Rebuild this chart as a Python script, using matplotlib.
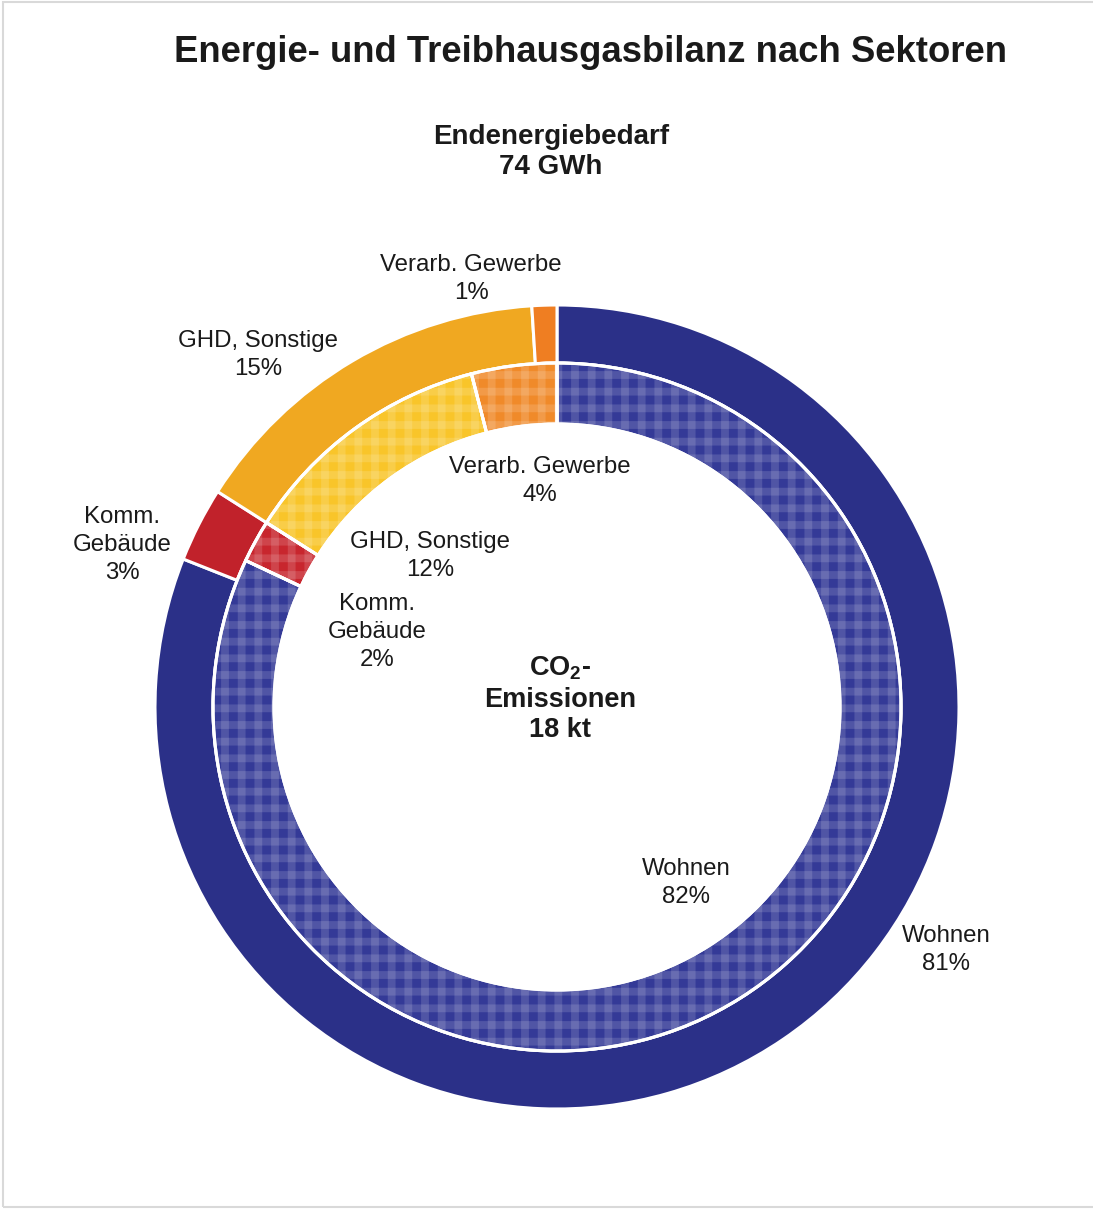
import matplotlib
matplotlib.use("Agg")
import matplotlib.pyplot as plt
from matplotlib.patches import Wedge, Rectangle

plt.rcParams["font.family"] = ["Liberation Sans", "DejaVu Sans"]
plt.rcParams["mathtext.fontset"] = "custom"
plt.rcParams["mathtext.rm"] = "Liberation Sans"
plt.rcParams["mathtext.bf"] = "Liberation Sans:bold"
plt.rcParams["hatch.linewidth"] = 5.6

# Sectors, clockwise from 12 o'clock
sectors = ["Wohnen", "Komm.\nGebäude", "GHD, Sonstige", "Verarb. Gewerbe"]
energy_share = [81, 3, 15, 1]      # Endenergiebedarf, %
co2_share = [82, 2, 12, 4]         # CO2-Emissionen, %
energy_total = "74 GWh"
co2_total = "18 kt"

outer_colors = ["#2B3088", "#C1222B", "#F0A821", "#EF7E22"]
inner_colors = ["#343A97", "#C8262E", "#F9C52A", "#F08A2A"]

W, H = 1093, 1209
fig = plt.figure(figsize=(W / 100, H / 100), dpi=100)
ax = fig.add_axes([0, 0, 1, 1])

# frame around the chart area
fig.patches.append(Rectangle((3 / W, 2 / H), (W + 10) / W, (H - 4) / H,
                             transform=fig.transFigure, fill=False,
                             edgecolor="#D9D9D9", lw=1.5))

cx, cy = 557, H - 707
R_out, w_out = 402, 58
R_in, w_in = 344, 61

outer, _ = ax.pie(energy_share, colors=outer_colors, startangle=90,
                  counterclock=False, radius=R_out, center=(cx, cy),
                  wedgeprops=dict(width=w_out, edgecolor="white", linewidth=2.2),
                  frame=True)
inner, _ = ax.pie(co2_share, colors=inner_colors, startangle=90,
                  counterclock=False, radius=R_in, center=(cx, cy),
                  wedgeprops=dict(width=w_in, edgecolor="white", linewidth=2.2),
                  frame=True)
ax.set_xlim(0, W)
ax.set_ylim(0, H)
ax.set_aspect("equal")
ax.axis("off")

# gingham texture on the inner ring: light horizontal and vertical stripes
for wd in inner:
    for hatch in ("-", "|"):
        ov = Wedge(wd.center, wd.r, wd.theta1, wd.theta2, width=wd.width,
                   facecolor="none", edgecolor=(1, 1, 1, 0.14), lw=0,
                   hatch=hatch, zorder=wd.get_zorder() + 0.1)
        ax.add_patch(ov)
    edge = Wedge(wd.center, wd.r, wd.theta1, wd.theta2, width=wd.width,
                 facecolor="none", edgecolor="white", lw=2.2,
                 zorder=wd.get_zorder() + 0.2)
    ax.add_patch(edge)

txt = "#1A1A1A"

def put(x, y, s, ls=1.15, **kw):
    ax.text(x, H - y, s, ha="center", va="center", color=txt,
            linespacing=ls, **kw)

put(591, 53, "Energie- und Treibhausgasbilanz nach Sektoren",
    fontsize=26.3, fontweight="bold")
put(551, 152, f"Endenergiebedarf\n{energy_total}", fontsize=20,
    fontweight="bold")

# outer ring labels
outer_pos = [(946, 950), (122, 545), (258, 355), (471, 279)]
for (x, y), name, v in zip(outer_pos, sectors, energy_share):
    put(x, y, f"{name}\n{v}%", ls=1.33, fontsize=17.3)

# inner ring labels
inner_pos = [(686, 883), (377, 632), (430, 556), (540, 481)]
for (x, y), name, v in zip(inner_pos, sectors, co2_share):
    put(x, y, f"{name}\n{v}%", ls=1.33, fontsize=17.3)

put(560, 699, "$\\mathbf{CO_2}$-\nEmissionen\n" + co2_total, ls=1.22,
    fontsize=19.5, fontweight="bold")

fig.savefig("out.png", dpi=100, facecolor="white")
